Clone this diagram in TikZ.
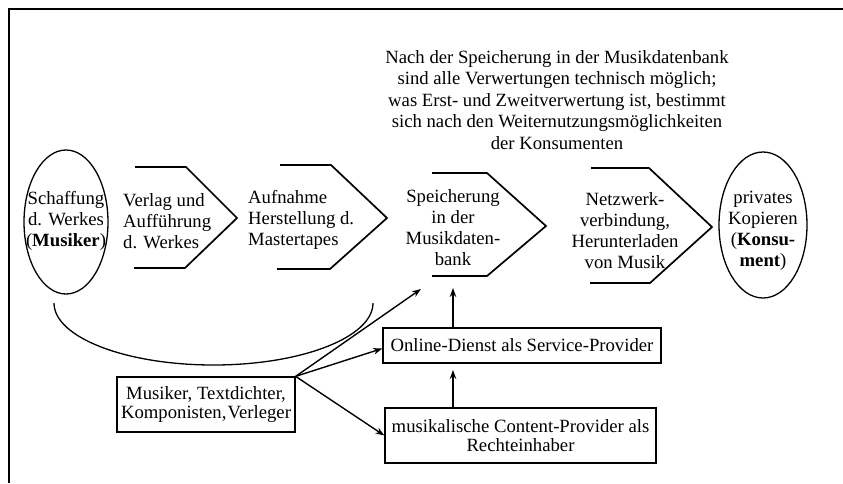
\documentclass[tikz,border=0pt]{standalone}
\usepackage{fontspec}
\setmainfont{Liberation Serif}
\usetikzlibrary{arrows.meta}
\begin{document}
\begin{tikzpicture}[x=1pt,y=-1pt,
  txt/.style={font=\fontsize{18.7}{21}\selectfont, inner sep=0pt, align=center},
  chev/.style={line width=1.7pt, line join=miter},
  outline/.style={line width=1.3pt},
  box/.style={draw, line width=1.3pt, inner sep=2pt, align=center, font=\fontsize{18.7}{19}\selectfont},
  arr/.style={line width=1.4pt, -{Stealth[length=9pt,width=6.5pt]}},
  ]
\useasboundingbox (0,0) rectangle (843,483);
\draw[outline] (9,483) -- (9,9) -- (843,9);

% explanatory note
\node[txt, font=\fontsize{18.7}{21.5}\selectfont] (note) at (557,100)
  {Nach der Speicherung in der Musikdatenbank\\sind alle Verwertungen technisch möglich;\\was Erst- und Zweitverwertung ist, bestimmt\\sich nach den Weiternutzungsmöglichkeiten\\der Konsumenten};

% left ellipse
\node[txt] (schaffung) at (66,221) {Schaffung\\d. Werkes\\(\textbf{Musiker})};
\draw[outline] (schaffung.center) ++(0,1) ellipse [x radius=42, y radius=72];

% chevrons
\draw[chev] (135,167) -- (186,167) -- (237,218) -- (185,268) -- (134,268);
\node[txt, align=left, anchor=west] (verlag) at (123,221) {Verlag und\\Aufführung\\d. Werkes};

\draw[chev] (280,165) -- (331,165) -- (387,218) -- (330,269) -- (277,269);
\node[txt, align=left, anchor=west] (aufnahme) at (248,220) {Aufnahme\\Herstellung d.\\Mastertapes};

\draw[chev] (432,173) -- (487,173) -- (546,226) -- (487,276) -- (432,276);
\node[txt] (speicher) at (453,228) {Speicherung\\in der\\Musikdaten-\\bank};

\draw[chev] (591,168) -- (649,168) -- (712,227) -- (650,283) -- (590,283);
\node[txt] (netz) at (625,231) {Netzwerk-\\verbindung,\\Herunterladen\\von Musik};

% right ellipse
\node[txt] (privat) at (763,231) {privates\\Kopieren\\(\textbf{Konsu-}\\\textbf{ment})};
\draw[outline] (763,225) ellipse [x radius=44, y radius=73];

% bracket arc
\coordinate (arcL) at (54,303);
\coordinate (arcR) at (373,303);
\draw[outline] (arcL) arc[start angle=180, end angle=0, x radius=159.5, y radius=62];

% boxes
\node[box, minimum width=178, minimum height=55] (musiker) at (206,404.5)
  {Musiker, Textdichter,\\Komponisten,\hspace{0.06em}Verleger};
\node[box, minimum width=278, minimum height=35] (online) at (522,345.5)
  {Online-Dienst als Service-Provider};
\node[box, minimum width=271, minimum height=55] (content) at (520.5,435.5)
  {musikalische Content-Provider als\\Rechteinhaber};

% arrows
\coordinate (sp1) at (421,289);
\coordinate (sp2) at (453,288);
\coordinate (sp3) at (453,370);
\draw[arr] (musiker.north east) -- (sp1);
\draw[arr] (musiker.north east) -- ([yshift=-3pt]online.west);
\draw[arr] (musiker.north east) -- (content.west);
\draw[arr] (online.north -| sp2) -- (sp2);
\draw[arr] (content.north -| sp3) -- (sp3);
\end{tikzpicture}
\end{document}
